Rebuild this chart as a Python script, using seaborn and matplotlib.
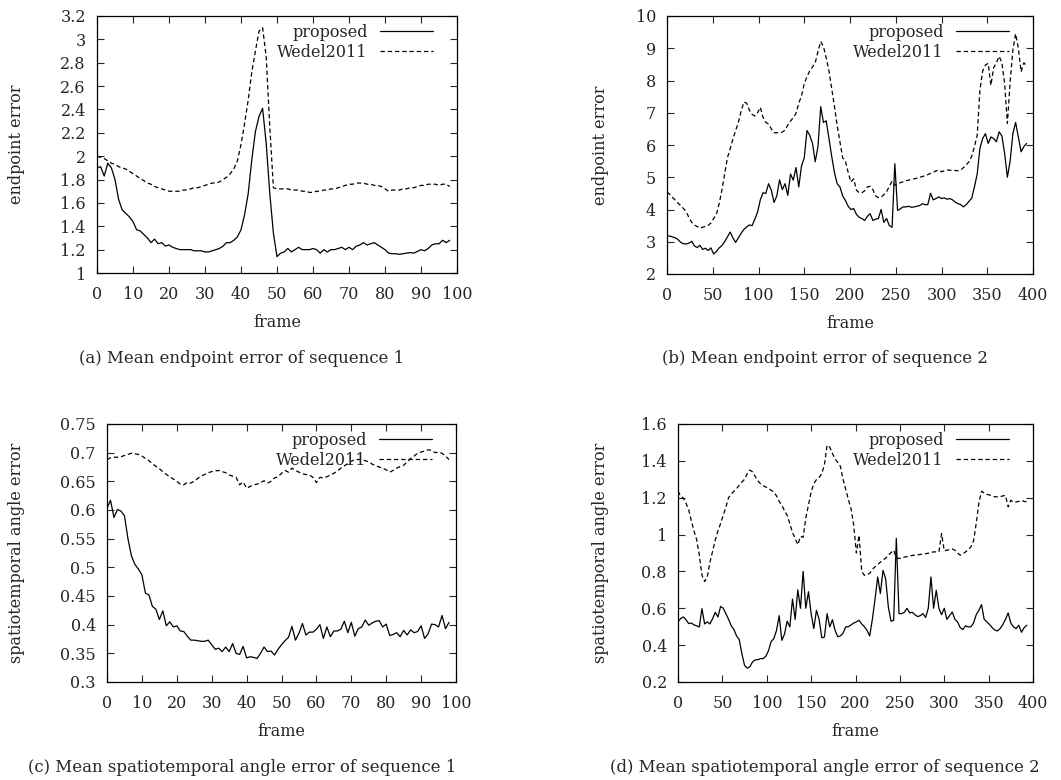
import matplotlib
matplotlib.use("Agg")
import matplotlib.pyplot as plt
import seaborn as sns

# sequence 1: every frame 0..98
frames_seq1 = list(range(0, 99))

ep1_proposed = [
    1.90, 1.91, 1.83, 1.94, 1.90, 1.80, 1.63, 1.54, 1.51, 1.48,
    1.44, 1.37, 1.36, 1.33, 1.30, 1.26, 1.29, 1.25, 1.26, 1.23,
    1.24, 1.22, 1.21, 1.20, 1.20, 1.20, 1.20, 1.19, 1.19, 1.19,
    1.18, 1.18, 1.19, 1.20, 1.21, 1.23, 1.26, 1.26, 1.28, 1.31,
    1.37, 1.50, 1.68, 1.97, 2.21, 2.34, 2.41, 2.11, 1.68, 1.34,
    1.14, 1.17, 1.18, 1.21, 1.18, 1.20, 1.22, 1.20, 1.20, 1.20,
    1.21, 1.20, 1.17, 1.20, 1.18, 1.20, 1.20, 1.21, 1.22, 1.20,
    1.22, 1.20, 1.23, 1.24, 1.26, 1.24, 1.25, 1.26, 1.24, 1.22,
    1.20, 1.17, 1.165, 1.165, 1.16, 1.165, 1.17, 1.175, 1.17, 1.185,
    1.20, 1.19, 1.21, 1.24, 1.25, 1.25, 1.28, 1.26, 1.28,
]
ep1_wedel = [
    2.00, 1.99, 1.98, 1.96, 1.94, 1.93, 1.91, 1.90, 1.89, 1.87,
    1.85, 1.83, 1.81, 1.79, 1.77, 1.76, 1.74, 1.73, 1.72, 1.71,
    1.70, 1.70, 1.70, 1.70, 1.71, 1.71, 1.72, 1.73, 1.73, 1.74,
    1.75, 1.76, 1.77, 1.77, 1.78, 1.80, 1.82, 1.85, 1.89, 1.96,
    2.10, 2.28, 2.48, 2.72, 2.90, 3.07, 3.10, 2.85, 2.25, 1.73,
    1.72, 1.72, 1.72, 1.72, 1.71, 1.71, 1.71, 1.70, 1.70, 1.69,
    1.69, 1.70, 1.70, 1.71, 1.71, 1.72, 1.72, 1.73, 1.74, 1.75,
    1.76, 1.76, 1.77, 1.77, 1.77, 1.76, 1.76, 1.75, 1.75, 1.74,
    1.72, 1.70, 1.71, 1.71, 1.71, 1.72, 1.72, 1.73, 1.73, 1.74,
    1.75, 1.75, 1.76, 1.76, 1.76, 1.75, 1.76, 1.76, 1.74,
]
ang1_proposed = [
    0.603, 0.617, 0.587, 0.601, 0.598, 0.590, 0.550, 0.520, 0.505, 0.497,
    0.487, 0.455, 0.452, 0.432, 0.427, 0.409, 0.424, 0.398, 0.405, 0.396,
    0.398, 0.389, 0.388, 0.380, 0.373, 0.373, 0.372, 0.371, 0.371, 0.373,
    0.365, 0.357, 0.359, 0.353, 0.361, 0.353, 0.367, 0.350, 0.348, 0.362,
    0.342, 0.344, 0.343, 0.341, 0.350, 0.361, 0.353, 0.354, 0.347, 0.357,
    0.365, 0.372, 0.378, 0.397, 0.373, 0.385, 0.402, 0.382, 0.387, 0.387,
    0.392, 0.400, 0.376, 0.396, 0.379, 0.389, 0.389, 0.392, 0.406, 0.386,
    0.404, 0.380, 0.393, 0.396, 0.408, 0.399, 0.403, 0.406, 0.407, 0.396,
    0.401, 0.381, 0.383, 0.386, 0.379, 0.390, 0.382, 0.391, 0.386, 0.388,
    0.398, 0.376, 0.384, 0.401, 0.400, 0.396, 0.416, 0.393, 0.404,
]
ang1_wedel = [
    0.688, 0.691, 0.692, 0.692, 0.693, 0.695, 0.697, 0.699, 0.698, 0.697,
    0.694, 0.690, 0.686, 0.681, 0.676, 0.672, 0.667, 0.662, 0.658, 0.654,
    0.650, 0.645, 0.644, 0.648, 0.647, 0.650, 0.655, 0.659, 0.662, 0.665,
    0.667, 0.668, 0.669, 0.667, 0.665, 0.661, 0.659, 0.657, 0.644, 0.649,
    0.638, 0.641, 0.644, 0.645, 0.648, 0.651, 0.647, 0.650, 0.656, 0.658,
    0.664, 0.669, 0.666, 0.673, 0.669, 0.666, 0.663, 0.662, 0.661, 0.657,
    0.648, 0.657, 0.656, 0.658, 0.661, 0.664, 0.668, 0.673, 0.677, 0.681,
    0.685, 0.688, 0.688, 0.688, 0.686, 0.684, 0.680, 0.677, 0.675, 0.673,
    0.670, 0.666, 0.669, 0.673, 0.676, 0.678, 0.684, 0.690, 0.694, 0.699,
    0.701, 0.703, 0.705, 0.704, 0.700, 0.701, 0.699, 0.694, 0.688,
]

# sequence 2: read every 3rd frame, 0..393
frames_seq2 = list(range(0, 394, 3))

ep2_proposed = [
    3.17, 3.18, 3.15, 3.12, 3.07, 2.98, 2.94, 2.93, 2.96, 3.01,
    2.87, 2.82, 2.89, 2.76, 2.80, 2.73, 2.81, 2.62, 2.70, 2.81,
    2.88, 3.00, 3.15, 3.30, 3.12, 2.98, 3.12, 3.26, 3.38, 3.46,
    3.52, 3.50, 3.70, 3.92, 4.30, 4.52, 4.50, 4.80, 4.60, 4.22,
    4.42, 4.92, 4.62, 4.80, 4.44, 5.10, 4.91, 5.30, 4.70, 5.35,
    5.60, 6.45, 6.30, 6.05, 5.48, 5.95, 7.19, 6.70, 6.75, 6.20,
    5.65, 5.15, 4.80, 4.70, 4.42, 4.28, 4.10, 4.00, 4.03, 3.85,
    3.76, 3.72, 3.66, 3.79, 3.87, 3.66, 3.70, 3.72, 4.00, 3.60,
    3.72, 3.50, 3.45, 5.42, 3.97, 4.02, 4.08, 4.08, 4.10, 4.07,
    4.08, 4.10, 4.12, 4.18, 4.15, 4.15, 4.50, 4.30, 4.34, 4.39,
    4.34, 4.36, 4.32, 4.34, 4.30, 4.23, 4.18, 4.15, 4.08, 4.15,
    4.25, 4.35, 4.70, 5.10, 5.90, 6.20, 6.35, 6.05, 6.25, 6.20,
    6.10, 6.41, 6.28, 5.74, 5.00, 5.50, 6.35, 6.70, 6.25, 5.79,
    5.95, 6.05,
]
ep2_wedel = [
    4.54, 4.47, 4.38, 4.29, 4.20, 4.12, 4.03, 3.93, 3.75, 3.60,
    3.52, 3.47, 3.42, 3.45, 3.48, 3.51, 3.58, 3.72, 3.85, 4.18,
    4.60, 5.10, 5.60, 5.88, 6.18, 6.45, 6.70, 7.05, 7.33, 7.30,
    7.08, 6.95, 6.90, 7.00, 7.17, 6.85, 6.70, 6.65, 6.50, 6.38,
    6.38, 6.38, 6.40, 6.46, 6.62, 6.74, 6.85, 6.98, 7.30, 7.52,
    7.90, 8.12, 8.30, 8.42, 8.55, 8.90, 9.21, 9.05, 8.70, 8.30,
    7.75, 7.20, 6.60, 6.10, 5.60, 5.50, 5.15, 4.85, 4.95, 4.60,
    4.52, 4.52, 4.58, 4.70, 4.72, 4.62, 4.42, 4.37, 4.38, 4.46,
    4.55, 4.72, 4.88, 4.75, 4.80, 4.83, 4.86, 4.89, 4.91, 4.93,
    4.95, 4.97, 5.00, 5.02, 5.05, 5.08, 5.12, 5.15, 5.20, 5.22,
    5.17, 5.20, 5.22, 5.22, 5.21, 5.21, 5.20, 5.22, 5.30, 5.38,
    5.48, 5.65, 5.95, 6.30, 7.70, 8.30, 8.48, 8.53, 7.85, 8.40,
    8.55, 8.75, 8.55, 7.90, 6.67, 7.95, 8.95, 9.45, 9.00, 8.27,
    8.55, 8.45,
]
ang2_proposed = [
    0.526, 0.544, 0.553, 0.538, 0.517, 0.520, 0.510, 0.505, 0.499, 0.598,
    0.515, 0.526, 0.515, 0.544, 0.578, 0.553, 0.610, 0.600, 0.570, 0.540,
    0.505, 0.485, 0.450, 0.430, 0.354, 0.290, 0.275, 0.283, 0.309, 0.320,
    0.321, 0.327, 0.327, 0.340, 0.370, 0.420, 0.436, 0.480, 0.560, 0.426,
    0.460, 0.530, 0.499, 0.650, 0.540, 0.700, 0.600, 0.800, 0.600, 0.690,
    0.571, 0.490, 0.589, 0.540, 0.440, 0.444, 0.571, 0.499, 0.538, 0.480,
    0.446, 0.450, 0.465, 0.499, 0.500, 0.510, 0.520, 0.526, 0.535, 0.515,
    0.500, 0.480, 0.450, 0.540, 0.650, 0.770, 0.680, 0.806, 0.760, 0.607,
    0.530, 0.535, 0.980, 0.571, 0.571, 0.578, 0.600, 0.575, 0.578, 0.565,
    0.555, 0.560, 0.571, 0.550, 0.600, 0.770, 0.600, 0.698, 0.600, 0.565,
    0.600, 0.540, 0.560, 0.580, 0.540, 0.526, 0.495, 0.485, 0.505, 0.499,
    0.500, 0.520, 0.565, 0.589, 0.620, 0.540, 0.526, 0.512, 0.495, 0.482,
    0.477, 0.490, 0.512, 0.540, 0.575, 0.520, 0.499, 0.490, 0.508, 0.470,
    0.495, 0.508,
]
ang2_wedel = [
    1.237, 1.208, 1.198, 1.170, 1.136, 1.075, 1.020, 0.972, 0.890, 0.779,
    0.745, 0.770, 0.850, 0.910, 0.970, 1.020, 1.060, 1.105, 1.150, 1.200,
    1.220, 1.235, 1.250, 1.268, 1.285, 1.300, 1.330, 1.350, 1.340, 1.315,
    1.292, 1.275, 1.265, 1.258, 1.250, 1.240, 1.230, 1.210, 1.180, 1.159,
    1.130, 1.105, 1.060, 1.010, 0.980, 0.945, 0.990, 0.985, 1.090, 1.160,
    1.230, 1.277, 1.298, 1.310, 1.330, 1.380, 1.485, 1.475, 1.440, 1.410,
    1.392, 1.370, 1.300, 1.245, 1.190, 1.140, 1.050, 0.900, 0.996, 0.800,
    0.779, 0.782, 0.790, 0.812, 0.825, 0.838, 0.850, 0.862, 0.872, 0.888,
    0.902, 0.915, 0.875, 0.870, 0.872, 0.878, 0.880, 0.883, 0.887, 0.888,
    0.890, 0.892, 0.894, 0.896, 0.899, 0.903, 0.906, 0.906, 0.906, 1.005,
    0.912, 0.915, 0.919, 0.922, 0.915, 0.900, 0.888, 0.895, 0.906, 0.918,
    0.933, 0.965, 1.060, 1.170, 1.235, 1.225, 1.218, 1.215, 1.210, 1.205,
    1.205, 1.205, 1.210, 1.212, 1.150, 1.186, 1.175, 1.177, 1.180, 1.185,
    1.180, 1.177,
]

sns.set_style("ticks")
plt.rcParams["font.family"] = ["DejaVu Serif"]
plt.rcParams["font.size"] = 11.5

W, H = 1061, 780
fig = plt.figure(figsize=(W / 100, H / 100), dpi=100)

# axes boxes in pixels: left, top, right, bottom
panels = [
    ((97, 16, 457, 273), frames_seq1, ep1_proposed, ep1_wedel,
     (0, 100), 10, (1, 3.2), 0.2, "endpoint error", 18,
     "(a) Mean endpoint error of sequence 1", (242, 359)),
    ((667, 16, 1033, 274), frames_seq2, ep2_proposed, ep2_wedel,
     (0, 400), 50, (2, 10), 1, "endpoint error", 602,
     "(b) Mean endpoint error of sequence 2", (825, 359)),
    ((107, 424, 456, 682), frames_seq1, ang1_proposed, ang1_wedel,
     (0, 100), 10, (0.3, 0.75), 0.05, "spatiotemporal angle error", 18,
     "(c) Mean spatiotemporal angle error of sequence 1", (242, 767)),
    ((678, 424, 1033, 682), frames_seq2, ang2_proposed, ang2_wedel,
     (0, 400), 50, (0.2, 1.6), 0.2, "spatiotemporal angle error", 602,
     "(d) Mean spatiotemporal angle error of sequence 2", (825, 767)),
]

for box, fr, prop, wed, xlim, xstep, ylim, ystep, ylab, ylab_x, cap, cpos in panels:

    l, t, r, b = box
    w_px, h_px = r - l, b - t
    ax = fig.add_axes([l / W, 1 - b / H, w_px / W, h_px / H])

    sns.lineplot(x=fr, y=prop, ax=ax, color="black", linewidth=0.9,
                 linestyle="-", label="proposed")
    sns.lineplot(x=fr, y=wed, ax=ax, color="black", linewidth=0.9,
                 linestyle=(0, (3.5, 2.3)), label="Wedel2011")

    ax.set_xlim(*xlim)
    ax.set_ylim(*ylim)

    xt = [xlim[0] + i * xstep for i in range(int(round((xlim[1] - xlim[0]) / xstep)) + 1)]
    yt = [ylim[0] + i * ystep for i in range(int(round((ylim[1] - ylim[0]) / ystep)) + 1)]
    ax.set_xticks(xt)
    ax.set_yticks(yt)
    ax.set_yticklabels(["%g" % round(v, 2) for v in yt])

    ax.tick_params(direction="in", length=5, width=0.8,
                   top=True, right=True, labelsize=11.5)
    ax.tick_params(axis="x", pad=9.5)
    ax.tick_params(axis="y", pad=8)
    for s in ax.spines.values():
        s.set_linewidth(0.9)
        s.set_color("black")

    ax.set_xlabel("frame", fontsize=11.5, labelpad=8)
    ax.set_ylabel(ylab, fontsize=11.5)
    ax.yaxis.set_label_coords((ylab_x + 7 - l) / w_px, 0.5)

    leg = ax.legend(loc="upper right", frameon=False, markerfirst=False,
                    handlelength=3.3, fontsize=11.5, borderaxespad=0,
                    borderpad=0, labelspacing=0.17, handletextpad=0.8,
                    bbox_to_anchor=(1 - 24 / w_px, 1 - 8 / h_px))
    for txt in leg.get_texts():
        txt.set_ha("right")

    fig.text(cpos[0] / W, 1 - cpos[1] / H, cap,
             ha="center", va="center", fontsize=11.9)

fig.savefig("out.png", dpi=100)
